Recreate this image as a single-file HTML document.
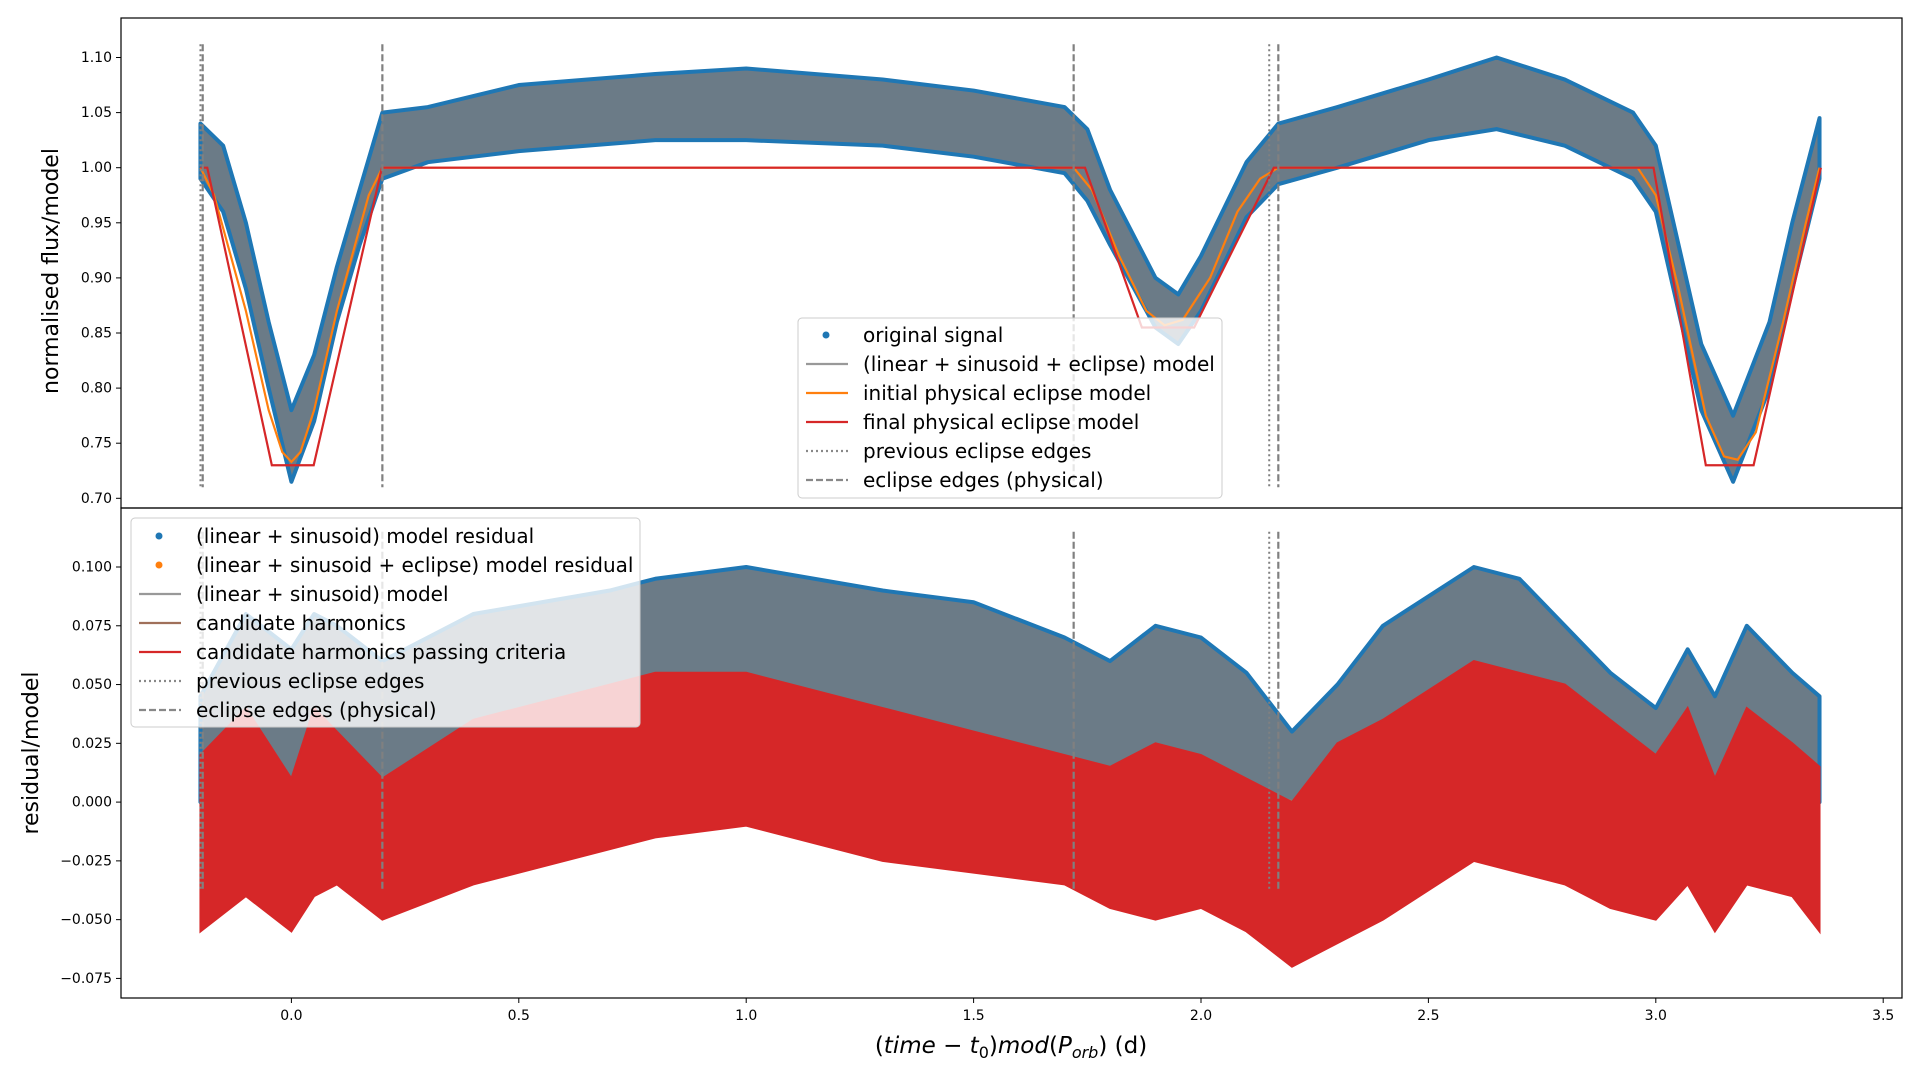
<!DOCTYPE html>
<html><head><meta charset="utf-8"><style>
body{margin:0;background:#fff;width:1920px;height:1080px;overflow:hidden;font-family:"Liberation Sans","DejaVu Sans",sans-serif}
svg text{font-family:"DejaVu Sans","Liberation Sans",sans-serif}
</style></head><body>
<svg id="c" width="1920" height="1080" xmlns="http://www.w3.org/2000/svg"></svg>
<script>
// ---- data ----
const xTicks=[0,0.5,1.0,1.5,2.0,2.5,3.0,3.5];
const xTickLabels=["0.0","0.5","1.0","1.5","2.0","2.5","3.0","3.5"];
const topTicks=[0.70,0.75,0.80,0.85,0.90,0.95,1.00,1.05,1.10];
const topTickLabels=["0.70","0.75","0.80","0.85","0.90","0.95","1.00","1.05","1.10"];
const botTicks=[-0.075,-0.05,-0.025,0,0.025,0.05,0.075,0.1];
const botTickLabels=["\u22120.075","\u22120.050","\u22120.025","0.000","0.025","0.050","0.075","0.100"];
// top: signal band
const sigX=[-0.2,-0.15,-0.1,-0.05,0,0.05,0.1,0.15,0.2,0.3,0.5,0.8,1.0,1.3,1.5,1.7,1.75,1.8,1.9,1.95,2.0,2.1,2.17,2.3,2.5,2.65,2.8,2.95,3.0,3.1,3.17,3.25,3.3,3.36];
const sigUpper=[1.04,1.02,0.95,0.86,0.78,0.83,0.91,0.98,1.05,1.055,1.075,1.085,1.09,1.08,1.07,1.055,1.035,0.98,0.9,0.885,0.92,1.005,1.04,1.055,1.08,1.1,1.08,1.05,1.02,0.84,0.775,0.86,0.95,1.045];
const sigLower=[0.99,0.96,0.89,0.80,0.715,0.77,0.86,0.93,0.99,1.005,1.015,1.025,1.025,1.02,1.01,0.995,0.97,0.93,0.855,0.84,0.87,0.955,0.985,1.0,1.025,1.035,1.02,0.99,0.96,0.78,0.715,0.8,0.89,0.99];
// models
const redX=[-0.2,-0.185,-0.043,0.049,0.199,1.73,1.745,1.87,1.985,2.16,2.978,2.995,3.11,3.215,3.363];
const redY=[1.0,1.0,0.73,0.73,1.0,1.0,1.0,0.855,0.855,1.0,1.0,1.0,0.73,0.73,1.0];
const orX=[-0.2,-0.17,-0.1,-0.05,-0.02,0,0.02,0.05,0.1,0.17,0.2,1.72,1.76,1.82,1.88,1.92,1.96,2.02,2.08,2.13,2.17,2.96,3.0,3.05,3.11,3.15,3.18,3.22,3.28,3.33,3.36];
const orY=[1.0,0.975,0.87,0.78,0.742,0.733,0.742,0.78,0.87,0.975,1.0,1.0,0.98,0.92,0.87,0.857,0.862,0.9,0.96,0.99,1.0,1.0,0.975,0.89,0.775,0.738,0.735,0.76,0.86,0.95,1.0];
// bottom: residuals
const resX=[-0.2,-0.1,0,0.05,0.1,0.2,0.4,0.7,0.8,1.0,1.3,1.5,1.7,1.8,1.9,2.0,2.1,2.2,2.3,2.4,2.6,2.7,2.8,2.9,3.0,3.07,3.13,3.2,3.3,3.36];
const resUpper=[0.045,0.08,0.065,0.08,0.075,0.06,0.08,0.09,0.095,0.1,0.09,0.085,0.07,0.06,0.075,0.07,0.055,0.03,0.05,0.075,0.1,0.095,0.075,0.055,0.04,0.065,0.045,0.075,0.055,0.045];
const resLower=[0.0,0.01,-0.005,0.015,0.01,0.0,0.01,0.005,0.0,0.0,0.005,0.0,-0.005,0.0,-0.005,-0.005,0.0,-0.005,0.0,0.0,0.0,0.0,0.005,0.0,0.0,0.0,-0.005,0.0,0.0,0.0];
const harmUpper=[0.02,0.04,0.01,0.04,0.03,0.01,0.035,0.05,0.055,0.055,0.04,0.03,0.02,0.015,0.025,0.02,0.01,0.0,0.025,0.035,0.06,0.055,0.05,0.035,0.02,0.04,0.01,0.04,0.025,0.015];
const harmLower=[-0.055,-0.04,-0.055,-0.04,-0.035,-0.05,-0.035,-0.02,-0.015,-0.01,-0.025,-0.03,-0.035,-0.045,-0.05,-0.045,-0.055,-0.07,-0.06,-0.05,-0.025,-0.03,-0.035,-0.045,-0.05,-0.035,-0.055,-0.035,-0.04,-0.055];
const dashEdges=[-0.195,0.2,1.72,2.17];
const dotEdges=[-0.2,2.15];

// ---- axes ----
const L=121,R=1902,T1=18,B1=508,T2=508,B2=998;
const xs=v=>291.4+(v-0)*454.8;
const ysTop=v=>57.5+(1.10-v)*1102;
const ysBot=v=>567+(0.1-v)*2351;
const svg=document.getElementById('c');
const NS="http://www.w3.org/2000/svg";
function mk(tag,attrs,parent){const e=document.createElementNS(NS,tag);for(const k in attrs)e.setAttribute(k,attrs[k]);(parent||svg).appendChild(e);return e;}
function poly(xa,ua,la,ys){let p=[];for(let i=0;i<xa.length;i++)p.push(xs(xa[i])+','+ys(ua[i]));for(let i=xa.length-1;i>=0;i--)p.push(xs(xa[i])+','+ys(la[i]));return p.join(' ');}
function line(xa,ya,ys){return xa.map((x,i)=>xs(x)+','+ys(ya[i])).join(' ');}

let e;
e=mk('polygon',{points:poly(sigX,sigUpper,sigLower,ysTop),fill:'#6b7b87',stroke:'#1f77b4','stroke-width':4,'stroke-linejoin':'round'});

e=mk('polyline',{points:line(orX,orY,ysTop),fill:'none',stroke:'#ff7f0e','stroke-width':2.2});

e=mk('polyline',{points:line(redX,redY,ysTop),fill:'none',stroke:'#d62728','stroke-width':2.2});

dashEdges.forEach(v=>{e=mk('line',{x1:xs(v),x2:xs(v),y1:ysTop(1.112),y2:ysTop(0.71),stroke:'#808080','stroke-width':2.2,'stroke-dasharray':'7,3'});
});
dotEdges.forEach(v=>{e=mk('line',{x1:xs(v),x2:xs(v),y1:ysTop(1.112),y2:ysTop(0.71),stroke:'#808080','stroke-width':2,'stroke-dasharray':'2,3'});
});

e=mk('polygon',{points:poly(resX,resUpper,resLower,ysBot),fill:'#6b7b87',stroke:'#1f77b4','stroke-width':4,'stroke-linejoin':'round'});

e=mk('polygon',{points:poly(resX,resLower.map(v=>v+0.006),resLower.map(v=>v-0.006),ysBot),fill:'#9a7a66',stroke:'none'});

e=mk('polygon',{points:poly(resX,harmUpper,harmLower,ysBot),fill:'#d62728',stroke:'#d62728','stroke-width':2});

dashEdges.forEach(v=>{e=mk('line',{x1:xs(v),x2:xs(v),y1:ysBot(0.115),y2:ysBot(-0.037),stroke:'#808080','stroke-width':2.2,'stroke-dasharray':'7,3'});
});
dotEdges.forEach(v=>{e=mk('line',{x1:xs(v),x2:xs(v),y1:ysBot(0.115),y2:ysBot(-0.037),stroke:'#808080','stroke-width':2,'stroke-dasharray':'2,3'});
});

e=mk('rect',{x:L,y:T1,width:R-L,height:B1-T1,fill:'none',stroke:'#000','stroke-width':1.2});

e=mk('rect',{x:L,y:T2,width:R-L,height:B2-T2,fill:'none',stroke:'#000','stroke-width':1.2});


topTicks.forEach((v,i)=>{const y=ysTop(v);mk('line',{x1:L-5,x2:L,y1:y,y2:y,stroke:'#000','stroke-width':1});
e=mk('text',{x:L-9,y:y+4.5,'text-anchor':'end','font-size':14});e.textContent=topTickLabels[i];
});
botTicks.forEach((v,i)=>{const y=ysBot(v);mk('line',{x1:L-5,x2:L,y1:y,y2:y,stroke:'#000','stroke-width':1});
e=mk('text',{x:L-9,y:y+4.5,'text-anchor':'end','font-size':14});e.textContent=botTickLabels[i];
});
xTicks.forEach((v,i)=>{const x=xs(v);mk('line',{x1:x,x2:x,y1:B2,y2:B2+5,stroke:'#000','stroke-width':1});
e=mk('text',{x:x,y:B2+22,'text-anchor':'middle','font-size':14});e.textContent=xTickLabels[i];
});

e=mk('text',{x:58,y:271,'text-anchor':'middle','font-size':22,transform:'rotate(-90 58 271)'});e.textContent='normalised flux/model';

e=mk('text',{x:38,y:753,'text-anchor':'middle','font-size':22,transform:'rotate(-90 38 753)'});e.textContent='residual/model';

e=mk('text',{x:1011,y:1053,'text-anchor':'middle','font-size':23});
e.innerHTML='(<tspan font-style="italic">time</tspan> \u2212 <tspan font-style="italic">t</tspan><tspan font-size="16" dy="5">0</tspan><tspan dy="-5">)</tspan><tspan font-style="italic">mod</tspan>(<tspan font-style="italic">P</tspan><tspan font-size="16" font-style="italic" dy="5">orb</tspan><tspan dy="-5">) (d)</tspan>';


function legend(x,y,w,h,items,name,off){
  const g=mk('g',{});
  mk('rect',{x:x,y:y,width:w,height:h,rx:4,fill:'rgba(255,255,255,0.8)',stroke:'#ccc','stroke-width':1},g);
  items.forEach((it,i)=>{const cy=y+off+i*29;
    if(it.t==='dot')mk('circle',{cx:x+28,cy:cy,r:3.5,fill:it.c},g);
    else mk('line',{x1:x+8,x2:x+50,y1:cy,y2:cy,stroke:it.c,'stroke-width':2.2,'stroke-dasharray':it.d||'none'},g);
    const t=mk('text',{x:x+65,y:cy+7,'font-size':20},g);t.textContent=it.l;
    });
}
legend(798,318,424,180,[{t:'dot',c:'#1f77b4',l:'original signal'},{t:'l',c:'#999',l:'(linear + sinusoid + eclipse) model'},{t:'l',c:'#ff7f0e',l:'initial physical eclipse model'},{t:'l',c:'#d62728',l:'final physical eclipse model'},{t:'l',c:'#888',d:'2,3',l:'previous eclipse edges'},{t:'l',c:'#888',d:'7,3',l:'eclipse edges (physical)'}],'top-legend',17);
legend(131,518,509,209,[{t:'dot',c:'#1f77b4',l:'(linear + sinusoid) model residual'},{t:'dot',c:'#ff7f0e',l:'(linear + sinusoid + eclipse) model residual'},{t:'l',c:'#999',l:'(linear + sinusoid) model'},{t:'l',c:'#a0705a',l:'candidate harmonics'},{t:'l',c:'#d62728',l:'candidate harmonics passing criteria'},{t:'l',c:'#888',d:'2,3',l:'previous eclipse edges'},{t:'l',c:'#888',d:'7,3',l:'eclipse edges (physical)'}],'bottom-legend',18);
</script>
</body></html>
